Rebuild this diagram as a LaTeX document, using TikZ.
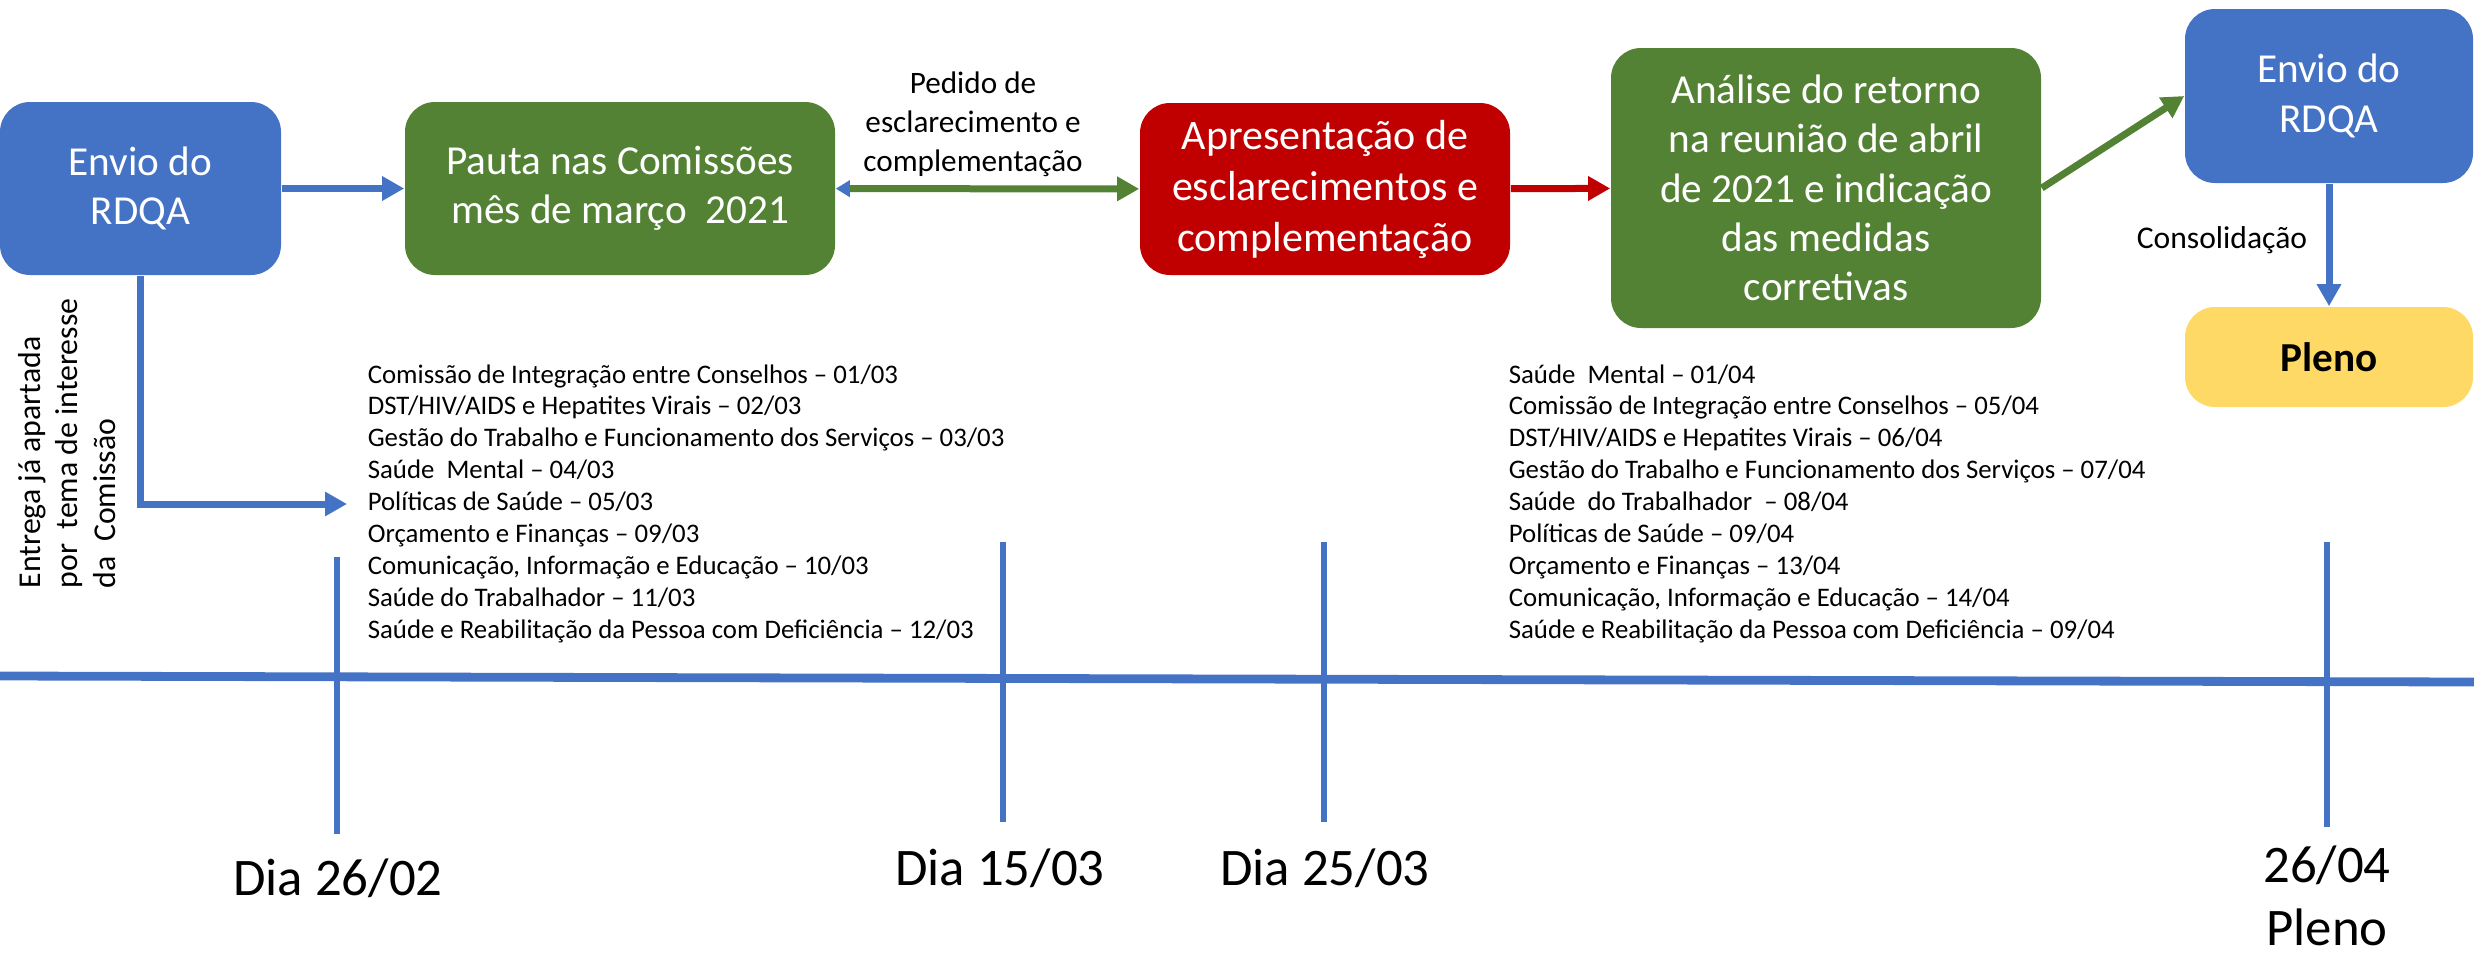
\documentclass[tikz,border=0pt]{standalone}
\usepackage{fontspec}
\setmainfont{Carlito}
\usetikzlibrary{arrows.meta}

\definecolor{rdqablue}{HTML}{4472C4}
\definecolor{pautagreen}{HTML}{548235}
\definecolor{apresred}{HTML}{C00000}
\definecolor{plenoyellow}{HTML}{FFD966}

\begin{document}
\begin{tikzpicture}[x=0.25pt, y=-0.25pt,
  etapa/.style={rounded corners=7.5pt, text=white, align=center, inner sep=0pt,
    font=\fontsize{10.3}{12.3}\selectfont},
  seta/.style={line width=1.75pt, -{Triangle[width=5.8pt,length=5.5pt]}},
  item/.style={anchor=base west, inner sep=0pt, font=\fontsize{6.7}{8}\selectfont},
  marco/.style={draw=rdqablue, line width=1.3pt},
  data/.style={align=center, inner sep=0pt, font=\fontsize{13.2}{15.6}\selectfont}]
\useasboundingbox (0,0) rectangle (2474,953);

\node[etapa, fill=rdqablue, minimum width=70.25pt, minimum height=43.25pt] (env1) at (140.5,188.5) {Envio do\\RDQA};
\node[etapa, fill=pautagreen, minimum width=107.5pt, minimum height=43.25pt] (pauta) at (620,188.5) {Pauta nas Comissões\\mês de março\ \ 2021};
\node[etapa, fill=apresred, minimum width=92.5pt, minimum height=43pt,
  font=\fontsize{10.5}{12.75}\selectfont] (apres) at (1325,189) {Apresentação de\\esclarecimentos e\\complementação};
\node[etapa, fill=pautagreen, minimum width=107.5pt, minimum height=70pt] (analise) at (1826,188) {Análise do retorno\\na reunião de abril\\de 2021 e indicação\\das medidas\\corretivas};
\node[etapa, fill=rdqablue, minimum width=72pt, minimum height=43.5pt] (env2) at (2329,96) {Envio do\\RDQA};
\node[etapa, fill=plenoyellow, text=black, minimum width=72pt, minimum height=25pt,
  font=\bfseries\fontsize{10.3}{12.3}\selectfont] (pleno) at (2329,357) {Pleno};

\draw[seta, rdqablue] (env1) -- (pauta);
\draw[seta, pautagreen, {Triangle[width=4pt,length=3.5pt,color=rdqablue]}-{Triangle[width=5.8pt,length=5.5pt]}] (pauta) -- (apres);
\node[align=center, inner sep=0pt, font=\fontsize{7.8}{9.7}\selectfont] (pedido) at (973,124) {Pedido de\\esclarecimento e\\complementação};
\draw[seta, apresred] (apres) -- (analise);
\draw[seta, pautagreen] (analise.east) -- (env2.west);
\draw[seta, rdqablue] (env2) -- (pleno);
\node[inner sep=0pt, font=\fontsize{7.9}{9.5}\selectfont] (consol) at (2222,240) {Consolidação};

% entrega por comissao
\coordinate (entrega) at (347,504);
\draw[seta, rdqablue] (env1.south) |- (entrega);
\node[rotate=90, anchor=west, align=left, inner sep=0pt, font=\fontsize{7.95}{9.4}\selectfont] (tema) at (67,589)
  {Entrega já apartada\\por\ \ tema de interesse\\da\ \ Comissão};

\foreach \txt [count=\i] in {Comissão de Integração entre Conselhos – 01/03,
    DST/HIV/AIDS e Hepatites Virais – 02/03,
    Gestão do Trabalho e Funcionamento dos Serviços – 03/03,
    Saúde\ \ Mental – 04/03, Políticas de Saúde – 05/03, Orçamento e Finanças – 09/03,
    {Comunicação, Informação e Educação – 10/03}, Saúde do Trabalhador – 11/03,
    Saúde e Reabilitação da Pessoa com Deficiência – 12/03}
  \node[item] (marco\i) at (367,{383+31.9*(\i-1)}) {\txt};

\foreach \txt [count=\i] in {Saúde\ \ Mental – 01/04,
    Comissão de Integração entre Conselhos – 05/04,
    DST/HIV/AIDS e Hepatites Virais – 06/04,
    Gestão do Trabalho e Funcionamento dos Serviços – 07/04,
    Saúde\ \ do Trabalhador\ \ – 08/04, Políticas de Saúde – 09/04, Orçamento e Finanças – 13/04,
    {Comunicação, Informação e Educação – 14/04},
    Saúde e Reabilitação da Pessoa com Deficiência – 09/04}
  \node[item] (abril\i) at (1508,{383+31.9*(\i-1)}) {\txt};

% linha do tempo
\coordinate (tl0) at (0,676);
\coordinate (tl1) at (2474,682);
\draw[rdqablue, line width=2.2pt] (tl0) -- (tl1);
\foreach \nome/\x/\ya/\yb in {t1/337/557/834, t2/1003/542/822, t3/1324/542/822, t4/2327/542/827} {
  \coordinate (\nome a) at (\x,\ya);
  \coordinate (\nome b) at (\x,\yb);
  \draw[marco] (\nome a) -- (\nome b);
}
\node[data] (dia1) at (338,878) {Dia 26/02};
\node[data] (dia2) at (1000,868) {Dia 15/03};
\node[data] (dia3) at (1325,868) {Dia 25/03};
\node[data] (dia4) at (2327,896) {26/04\\Pleno};
\end{tikzpicture}
\end{document}
